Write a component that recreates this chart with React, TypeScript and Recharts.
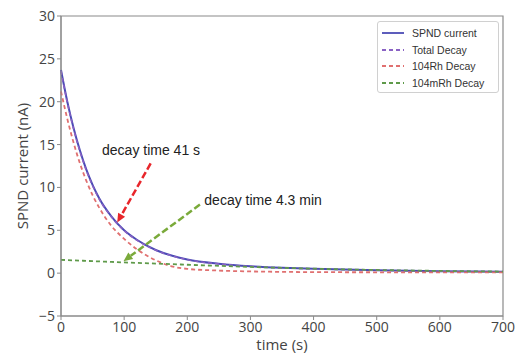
import React from "react";
import {
  LineChart, Line, XAxis, YAxis, ReferenceLine, ReferenceArea, ReferenceDot, Label,
} from "recharts";

// values
const time = [0, 10, 20, 30, 40, 50, 60, 80, 100, 120, 150, 175, 200, 250, 300, 350, 400, 500, 600, 700];
const spndCurrent = [23.7, 20.0, 16.9, 14.3, 12.1, 10.3, 8.8, 6.6, 5.0, 3.9, 2.7, 2.05, 1.6, 1.1, 0.8, 0.62, 0.5, 0.33, 0.23, 0.16];
const totalDecay = [23.6, 19.9, 16.8, 14.2, 12.0, 10.2, 8.7, 6.55, 4.95, 3.85, 2.68, 2.03, 1.58, 1.08, 0.79, 0.62, 0.5, 0.33, 0.23, 0.16];
const rh104Decay = [21.2, 18.0, 15.2, 12.8, 10.8, 9.1, 7.7, 5.5, 4.0, 2.8, 1.5, 0.8, 0.5, 0.3, 0.2, 0.15, 0.12, 0.1, 0.09, 0.08];
const mrh104Decay = [1.55, 1.52, 1.49, 1.46, 1.43, 1.4, 1.37, 1.31, 1.25, 1.2, 1.12, 1.05, 0.98, 0.85, 0.72, 0.62, 0.52, 0.37, 0.26, 0.18];

const xTicks = [0, 100, 200, 300, 400, 500, 600, 700];
const yTicks = [-5, 0, 5, 10, 15, 20, 25, 30];

// annotation arrows: [tail, head]
const rhArrow = [{ x: 142, y: 12.8 }, { x: 89, y: 5.9 }];
const mrhArrow = [{ x: 220, y: 8.0 }, { x: 99, y: 1.4 }];
const rhNote = { x: 65, y: 14.4, text: "decay time 41 s" };
const mrhNote = { x: 227, y: 8.5, text: "decay time 4.3 min" };

const data = time.map((t, i) => ({
  t,
  spnd: spndCurrent[i],
  total: totalDecay[i],
  rh: rh104Decay[i],
  mrh: mrh104Decay[i],
}));

const legendItems = [
  { name: "SPND current", color: "#4b4bb5", dash: "" },
  { name: "Total Decay", color: "#8a62c4", dash: "4 3" },
  { name: "104Rh Decay", color: "#e07070", dash: "4 3" },
  { name: "104mRh Decay", color: "#5f9a4a", dash: "4 3" },
];

const annoFont = "'Liberation Sans', Arial, sans-serif";
const axisFont = "'Open Sans', sans-serif";

function Arrow(color: string) {
  return (props: any) => {
    const { x1, y1, x2, y2 } = props;
    const ang = Math.atan2(y2 - y1, x2 - x1);
    const len = 9;
    const w = 4;
    const bx = x2 - len * Math.cos(ang);
    const by = y2 - len * Math.sin(ang);
    const px = -Math.sin(ang) * w;
    const py = Math.cos(ang) * w;
    return (
      <g>
        <line x1={x1} y1={y1} x2={bx} y2={by} stroke={color} strokeWidth={2.5} strokeDasharray="7 3" />
        <polygon points={`${x2},${y2} ${bx + px},${by + py} ${bx - px},${by - py}`} fill={color} />
      </g>
    );
  };
}

function NoteLabel(text: string) {
  return (props: any) => {
    const { viewBox } = props;
    return (
      <text x={viewBox.x} y={viewBox.y} dy={5} fontSize={14} fill="#222" fontFamily={annoFont}>
        {text}
      </text>
    );
  };
}

function LegendBox() {
  return (
    <div
      style={{
        position: "absolute",
        left: 377,
        top: 21,
        boxSizing: "border-box",
        width: 122,
        height: 72,
        border: "1px solid #d0d0d0",
        borderRadius: 3,
        background: "#fff",
        padding: "3px 4px 0 4px",
        fontFamily: annoFont,
        fontSize: 10.5,
        color: "#333",
      }}
    >
      {legendItems.map((it) => (
        <div key={it.name} style={{ display: "flex", alignItems: "center", height: 16.5 }}>
          <svg width={22} height={8} style={{ marginRight: 8 }}>
            <line x1={0} y1={4} x2={22} y2={4} stroke={it.color} strokeWidth={1.8} strokeDasharray={it.dash} />
          </svg>
          <span>{it.name}</span>
        </div>
      ))}
    </div>
  );
}

export default function App() {
  return (
    <div style={{ position: "absolute", left: 0, top: 0, width: 518, height: 353, background: "#fff" }}>
      <LineChart width={518} height={353} data={data} margin={{ top: 16, right: 15, bottom: 0, left: 0 }}>
        <XAxis
          dataKey="t"
          type="number"
          domain={[0, 700]}
          ticks={xTicks}
          tickSize={4}
          stroke="#8a8a8a"
          tick={{ fill: "#444", fontSize: 14, fontFamily: axisFont }}
          height={37}
        >
          <Label value="time (s)" position="insideBottom" offset={3} fill="#444" fontSize={15} fontFamily={axisFont} />
        </XAxis>
        <YAxis
          type="number"
          domain={[-5, 30]}
          ticks={yTicks}
          tickSize={4}
          width={61}
          stroke="#8a8a8a"
          tick={{ fill: "#444", fontSize: 14, fontFamily: axisFont }}
          tickFormatter={(v: number) => (v < 0 ? "\u2212" + Math.abs(v) : String(v))}
        >
          <Label value="SPND current (nA)" angle={-90} position="center" dx={-8} fill="#444" fontSize={15} fontFamily={axisFont} />
        </YAxis>
        <ReferenceArea x1={0} x2={700} y1={-5} y2={30} fill="none" stroke="#8a8a8a" strokeWidth={1.2} />
        <Line type="monotone" dataKey="spnd" stroke="#4b4bb5" strokeWidth={2} dot={false} isAnimationActive={false} />
        <Line type="monotone" dataKey="total" stroke="#8a62c4" strokeWidth={1.5} strokeDasharray="4 3" dot={false} isAnimationActive={false} />
        <Line type="monotone" dataKey="rh" stroke="#e07070" strokeWidth={1.8} strokeDasharray="4 3" dot={false} isAnimationActive={false} />
        <Line type="monotone" dataKey="mrh" stroke="#5f9a4a" strokeWidth={1.8} strokeDasharray="4 3" dot={false} isAnimationActive={false} />
        <ReferenceLine segment={rhArrow} shape={Arrow("#e8262b")} ifOverflow="visible" />
        <ReferenceLine segment={mrhArrow} shape={Arrow("#7aaa3a")} ifOverflow="visible" />
        <ReferenceDot x={rhNote.x} y={rhNote.y} r={0} fill="none" stroke="none" label={NoteLabel(rhNote.text)} />
        <ReferenceDot x={mrhNote.x} y={mrhNote.y} r={0} fill="none" stroke="none" label={NoteLabel(mrhNote.text)} />
      </LineChart>
      <LegendBox />
    </div>
  );
}
